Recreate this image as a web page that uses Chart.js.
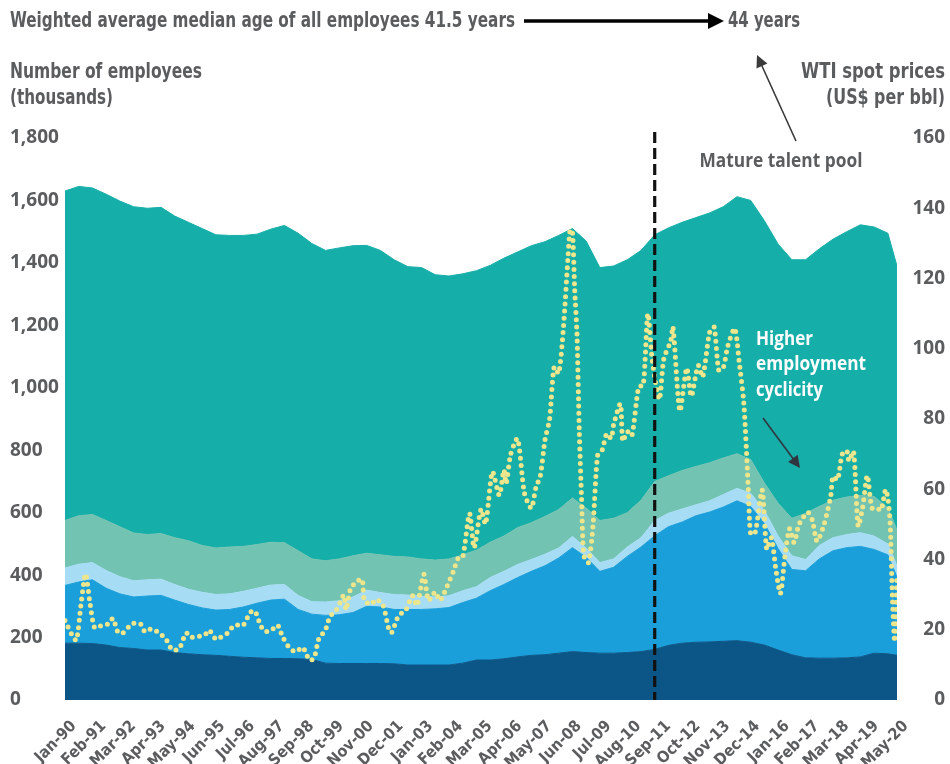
<!DOCTYPE html>
<html>
<head>
<meta charset="utf-8">
<script src="https://cdn.jsdelivr.net/npm/chart.js@4.4.1/dist/chart.umd.min.js"></script>
<style>
  html, body { margin: 0; padding: 0; background: #fff; }
  #wrap { width: 950px; height: 764px; }
</style>
</head>
<body>
<div id="wrap"><canvas id="talentChart" width="950" height="764"></canvas></div>
<script>
// x axis labels, one every 13 months
const tickLabels = ['Jan-90', 'Feb-91', 'Mar-92', 'Apr-93', 'May-94', 'Jun-95', 'Jul-96', 'Aug-97', 'Sep-98', 'Oct-99',
  'Nov-00', 'Dec-01', 'Jan-03', 'Feb-04', 'Mar-05', 'Apr-06', 'May-07', 'Jun-08', 'Jul-09', 'Aug-10',
  'Sep-11', 'Oct-12', 'Nov-13', 'Dec-14', 'Jan-16', 'Feb-17', 'Mar-18', 'Apr-19', 'May-20'];

// employment bands, sampled every 6 months (upper edge of each band, thousands)
const sampleMonths = ['1990-01', '1990-07', '1991-01', '1991-07', '1992-01', '1992-07', '1993-01', '1993-07', '1994-01', '1994-07',
  '1995-01', '1995-07', '1996-01', '1996-07', '1997-01', '1997-07', '1998-01', '1998-07', '1999-01', '1999-07',
  '2000-01', '2000-07', '2001-01', '2001-07', '2002-01', '2002-07', '2003-01', '2003-07', '2004-01', '2004-07',
  '2005-01', '2005-07', '2006-01', '2006-07', '2007-01', '2007-07', '2008-01', '2008-07', '2009-01', '2009-07',
  '2010-01', '2010-07', '2011-01', '2011-07', '2012-01', '2012-07', '2013-01', '2013-07', '2014-01', '2014-07',
  '2015-01', '2015-07', '2016-01', '2016-07', '2017-01', '2017-07', '2018-01', '2018-07', '2019-01', '2019-07',
  '2020-01', '2020-05'];
const navyTop = [182, 182, 181, 176, 168, 165, 160, 160, 152, 148, 145, 143, 140, 137, 135, 133, 133, 132, 130, 118,
  117, 117, 117, 117, 116, 112, 112, 112, 112, 118, 128, 128, 132, 138, 143, 145, 150, 155, 152, 150,
  150, 152, 155, 162, 175, 182, 185, 186, 188, 190, 185, 176, 160, 145, 135, 134, 134, 135, 138, 150, 148, 143];
const blueTop = [367, 378, 385, 358, 340, 330, 333, 335, 320, 306, 295, 288, 290, 298, 310, 320, 323, 290, 275, 271,
  273, 280, 300, 298, 290, 290, 290, 292, 296, 312, 326, 350, 370, 392, 412, 430, 455, 488, 457, 412,
  425, 460, 490, 526, 555, 570, 590, 602, 618, 638, 620, 565, 485, 418, 414, 452, 478, 488, 492, 482, 465, 393];
const lightBlueTop = [423, 435, 440, 415, 395, 382, 385, 387, 370, 355, 345, 338, 340, 348, 358, 368, 370, 335, 315, 314,
  318, 330, 352, 344, 338, 336, 332, 330, 334, 350, 363, 392, 412, 434, 450, 467, 487, 524, 487, 440,
  452, 490, 520, 575, 598, 612, 625, 638, 658, 678, 662, 607, 525, 462, 450, 495, 520, 530, 536, 525, 500, 430];
const lightTealTop = [575, 590, 594, 575, 555, 535, 530, 533, 520, 510, 495, 487, 490, 492, 498, 505, 504, 478, 452, 446,
  452, 462, 470, 465, 460, 458, 452, 448, 452, 465, 480, 505, 525, 552, 568, 588, 610, 647, 615, 575,
  582, 600, 640, 700, 718, 735, 748, 760, 775, 789, 770, 695, 630, 582, 598, 620, 640, 650, 655, 652, 615, 545];
const tealTop = [1630, 1645, 1640, 1620, 1598, 1580, 1575, 1578, 1550, 1530, 1510, 1490, 1488, 1488, 1492, 1508, 1520, 1495, 1462, 1440,
  1448, 1455, 1456, 1440, 1410, 1388, 1385, 1362, 1358, 1365, 1375, 1392, 1415, 1435, 1455, 1468, 1488, 1510, 1470, 1385,
  1390, 1410, 1440, 1490, 1512, 1530, 1545, 1560, 1580, 1612, 1600, 1535, 1460, 1410, 1410, 1445, 1476, 1500, 1522, 1515, 1495, 1390];

// WTI spot price (US$ per bbl)
const oilMonths = ['1990-01', '1990-04', '1990-06', '1990-08', '1990-10', '1990-12', '1991-02', '1991-05', '1991-08', '1991-10', '1991-12',
  '1992-02', '1992-05', '1992-07', '1992-10', '1992-12', '1993-03', '1993-06', '1993-09', '1993-12',
  '1994-03', '1994-06', '1994-08', '1994-11', '1995-02', '1995-04', '1995-07', '1995-09', '1995-12',
  '1996-03', '1996-05', '1996-07', '1996-10', '1996-12', '1997-02', '1997-04', '1997-07', '1997-10', '1997-12',
  '1998-03', '1998-06', '1998-09', '1998-12', '1999-02', '1999-04', '1999-07', '1999-09', '1999-11',
  '2000-01', '2000-03', '2000-04', '2000-06', '2000-09', '2000-11', '2000-12', '2001-03', '2001-05', '2001-08', '2001-11', '2001-12',
  '2002-03', '2002-06', '2002-09', '2002-11', '2003-02', '2003-04', '2003-07', '2003-09', '2003-12',
  '2004-03', '2004-05', '2004-07', '2004-10', '2004-12', '2005-03', '2005-05', '2005-08', '2005-11',
  '2006-01', '2006-02', '2006-04', '2006-07', '2006-10', '2007-01', '2007-03', '2007-05', '2007-07', '2007-09', '2007-11',
  '2008-01', '2008-03', '2008-05', '2008-06', '2008-07', '2008-08', '2008-09', '2008-10', '2008-11', '2008-12',
  '2009-02', '2009-04', '2009-06', '2009-08', '2009-10', '2009-12', '2010-01', '2010-04', '2010-05', '2010-07', '2010-09', '2010-12',
  '2011-02', '2011-04', '2011-06', '2011-09', '2011-11', '2012-02', '2012-03', '2012-06', '2012-09', '2012-11',
  '2013-02', '2013-04', '2013-07', '2013-09', '2013-11', '2014-01', '2014-03', '2014-06', '2014-08', '2014-10', '2014-12',
  '2015-01', '2015-03', '2015-06', '2015-08', '2015-10', '2015-12', '2016-02', '2016-04', '2016-06', '2016-08', '2016-10', '2016-12',
  '2017-02', '2017-04', '2017-06', '2017-09', '2017-12', '2018-01', '2018-03', '2018-05', '2018-07', '2018-08', '2018-10', '2018-12',
  '2019-02', '2019-04', '2019-06', '2019-08', '2019-10', '2019-12', '2020-01', '2020-02', '2020-03', '2020-04', '2020-05'];
const oilPrices = [22.6, 18.6, 17.0, 27.2, 35.9, 27.3, 20.5, 21.2, 21.7, 23.2, 19.5,
  18.9, 20.9, 21.8, 21.7, 19.4, 20.3, 19.1, 17.5, 14.2,
  14.7, 19.1, 17.9, 18.1, 18.4, 19.9, 17.3, 17.8, 19.0,
  21.3, 21.3, 21.3, 24.9, 25.4, 22.2, 19.7, 19.7, 21.3, 18.3,
  15.0, 13.7, 15.0, 11.3, 12.0, 17.3, 20.1, 23.9, 25.0,
  27.2, 29.9, 25.7, 31.8, 33.9, 34.4, 28.4, 27.2, 28.6, 27.2, 19.4, 19.3,
  24.1, 25.5, 29.7, 26.9, 35.8, 28.3, 30.8, 28.3, 32.1,
  36.8, 40.3, 40.7, 53.1, 43.3, 54.3, 50.1, 65.0, 58.3,
  65.5, 61.6, 70.0, 74.4, 58.9, 54.6, 60.4, 64.0, 74.1, 79.9, 94.8,
  93.0, 105.5, 125.4, 133.9, 133.4, 116.7, 104.1, 76.6, 57.3, 41.1,
  39.1, 49.6, 69.6, 71.1, 75.8, 74.5, 78.3, 84.3, 73.7, 76.4, 75.2, 89.2,
  89.6, 110.0, 96.3, 85.6, 97.2, 102.2, 106.2, 82.3, 94.5, 86.5,
  95.3, 92.0, 104.6, 106.2, 93.9, 94.6, 100.8, 105.8, 96.0, 84.4, 59.3,
  47.2, 47.8, 59.8, 42.9, 46.2, 37.2, 30.3, 41.1, 48.8, 44.8, 49.8, 52.0,
  53.5, 51.1, 45.2, 49.8, 58.0, 63.7, 62.7, 69.9, 71.0, 68.1, 70.8, 49.5,
  54.9, 63.9, 54.7, 54.8, 54.0, 59.9, 57.5, 50.5, 29.2, 16.6, 35.0];

const splitMonth = '2011-07';

const GREY = '#5b5c5e';
const COND = '"DejaVu Sans Condensed", "Open Sans", sans-serif';

function monthIndex(s) {
  const [y, m] = s.split('-').map(Number);
  return (y - 1990) * 12 + (m - 1);
}

function toPoints(months, values) {
  return months.map((m, i) => ({ x: monthIndex(m), y: values[i] }));
}

// draws text squeezed / stretched to a given width
function fitText(ctx, text, x, y, width, font, color, align) {
  ctx.save();
  ctx.font = font;
  ctx.fillStyle = color;
  ctx.textBaseline = 'middle';
  ctx.textAlign = 'left';
  const w = ctx.measureText(text).width;
  let x0 = x;
  if (align === 'right') x0 = x - width;
  if (align === 'center') x0 = x - width / 2;
  ctx.translate(x0, y);
  ctx.scale(width / w, 1);
  ctx.fillText(text, 0, 0);
  ctx.restore();
}

function arrow(ctx, x1, y1, x2, y2, width, head, color) {
  const ang = Math.atan2(y2 - y1, x2 - x1);
  ctx.save();
  ctx.strokeStyle = color;
  ctx.fillStyle = color;
  ctx.lineWidth = width;
  ctx.beginPath();
  ctx.moveTo(x1, y1);
  ctx.lineTo(x2 - Math.cos(ang) * head * 0.8, y2 - Math.sin(ang) * head * 0.8);
  ctx.stroke();
  ctx.beginPath();
  ctx.moveTo(x2, y2);
  ctx.lineTo(x2 - head * Math.cos(ang) + head * 0.5 * Math.sin(ang), y2 - head * Math.sin(ang) - head * 0.5 * Math.cos(ang));
  ctx.lineTo(x2 - head * Math.cos(ang) - head * 0.5 * Math.sin(ang), y2 - head * Math.sin(ang) + head * 0.5 * Math.cos(ang));
  ctx.closePath();
  ctx.fill();
  ctx.restore();
}

const annotations = {
  id: 'annotations',
  afterDatasetsDraw(chart) {
    const ctx = chart.ctx;
    const area = chart.chartArea;
    const x = chart.scales.x.getPixelForValue(monthIndex(splitMonth));
    ctx.save();
    ctx.strokeStyle = '#111';
    ctx.lineWidth = 3.2;
    ctx.setLineDash([11, 5]);
    ctx.beginPath();
    ctx.moveTo(x, area.top - 6);
    ctx.lineTo(x, area.bottom);
    ctx.stroke();
    ctx.restore();
  },
  afterDraw(chart) {
    const ctx = chart.ctx;
    const bold = s => 'bold ' + s + 'px ' + COND;
    const boldOpen = s => 'bold ' + s + 'px "Open Sans", sans-serif';

    fitText(ctx, 'Weighted average median age of all employees 41.5 years', 10, 21, 505, bold(22), GREY, 'left');
    arrow(ctx, 524, 21, 724, 21, 3.5, 16, '#000');
    fitText(ctx, '44 years', 728, 21, 72, bold(22), GREY, 'left');

    fitText(ctx, 'Number of employees', 10, 73, 192, bold(21), GREY, 'left');
    fitText(ctx, '(thousands)', 10, 99, 103, bold(21), GREY, 'left');
    fitText(ctx, 'WTI spot prices', 945, 73, 144, bold(21), GREY, 'right');
    fitText(ctx, '(US$ per bbl)', 945, 99, 119, bold(21), GREY, 'right');

    fitText(ctx, 'Mature talent pool', 781, 161, 163, boldOpen(20), GREY, 'center');
    arrow(ctx, 796, 141, 757, 55, 1.6, 12, '#3a3a3a');

    fitText(ctx, 'Higher', 756, 339, 57, boldOpen(20), '#ffffff', 'left');
    fitText(ctx, 'employment', 756, 364, 110, boldOpen(20), '#ffffff', 'left');
    fitText(ctx, 'cyclicity', 756, 390, 67, boldOpen(20), '#ffffff', 'left');
    arrow(ctx, 763, 418, 800, 468, 1.6, 12, '#2f3640');
  }
};

function band(label, values, color, fill) {
  return {
    label: label,
    data: toPoints(sampleMonths, values),
    yAxisID: 'y',
    backgroundColor: color,
    borderColor: color,
    borderWidth: 1,
    pointRadius: 0,
    tension: 0,
    fill: fill
  };
}

new Chart(document.getElementById('talentChart'), {
  type: 'line',
  data: {
    datasets: [
      {
        label: 'WTI spot price',
        data: toPoints(oilMonths, oilPrices),
        yAxisID: 'y2',
        borderColor: '#eee68c',
        borderWidth: 5,
        borderDash: [0, 7.2],
        borderCapStyle: 'round',
        borderJoinStyle: 'round',
        pointRadius: 0,
        tension: 0.25,
        fill: false
      },
      band('Band 1', navyTop, '#0c5687', 'origin'),
      band('Band 2', blueTop, '#1b9fda', 1),
      band('Band 3', lightBlueTop, '#a6dcf4', 2),
      band('Band 4', lightTealTop, '#72c3b1', 3),
      band('Band 5', tealTop, '#16aea9', 4)
    ]
  },
  options: {
    responsive: false,
    animation: false,
    devicePixelRatio: 1,
    layout: { padding: { left: 10, right: 5, top: 138, bottom: 0 } },
    plugins: { legend: { display: false }, tooltip: { enabled: false } },
    scales: {
      x: {
        type: 'linear',
        min: 0,
        max: 364,
        grid: { display: false },
        border: { display: false },
        afterFit: s => { s.height = 64; },
        ticks: {
          stepSize: 13,
          autoSkip: false,
          maxRotation: 45,
          minRotation: 45,
          padding: 9,
          labelOffset: 9,
          color: GREY,
          font: { family: COND, size: 16, weight: 'bold' },
          callback: v => tickLabels[Math.round(v / 13)]
        }
      },
      y: {
        position: 'left',
        min: 0,
        max: 1800,
        grid: { display: false },
        border: { display: false },
        afterFit: s => { s.width = 55; },
        ticks: {
          stepSize: 200,
          crossAlign: 'far',
          color: GREY,
          font: { family: '"Open Sans", sans-serif', size: 19, weight: 'bold' },
          callback: v => v.toLocaleString('en-US')
        }
      },
      y2: {
        position: 'right',
        min: 0,
        max: 160,
        grid: { display: false },
        border: { display: false },
        afterFit: s => { s.width = 48; },
        ticks: {
          stepSize: 20,
          crossAlign: 'far',
          color: GREY,
          font: { family: '"Open Sans", sans-serif', size: 19, weight: 'bold' }
        }
      }
    }
  },
  plugins: [annotations]
});
</script>
</body>
</html>
